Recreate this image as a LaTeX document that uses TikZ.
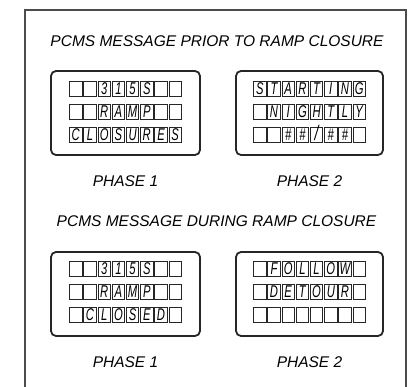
\documentclass[tikz,border=0pt]{standalone}
\usepackage{graphicx}
\usepackage{fontspec}
\setmainfont{Liberation Sans}
\newcommand\bigslash{{\fontsize{21}{21}\selectfont /}}
\newcommand\cellfmt{\fontsize{17}{17}\selectfont\itshape}
\newcommand\pcmsrow[4]{%
  \foreach \t [count=\i] in {#4} {
    \node[cell] (#1-\i) at ({#2+(\i-4.5)*14.2},#3) {\cellfmt\scalebox{0.66}[1]{\t}};
  }}
\begin{document}
\begin{tikzpicture}[x=1pt,y=-1pt,
  frame/.style={draw=black!70, line width=2pt},
  panel/.style={draw=black!85, line width=1.8pt, rounded corners=5pt, inner sep=0pt},
  cell/.style={draw=black!85, line width=0.8pt, minimum width=12.5pt, minimum height=15pt,
    inner sep=0pt, text height=12pt, text depth=0pt},
  title/.style={font=\fontsize{15.5}{15.5}\selectfont\itshape, inner sep=0pt}]
\useasboundingbox (0,0) rectangle (410,387);
\draw[frame] (25,387) -- (25,10) -- (406,10) -- (406,387);

\node[title] (t1) at (217,41) {PCMS MESSAGE PRIOR TO RAMP CLOSURE};
\node[title] (t2) at (216.5,221) {PCMS MESSAGE DURING RAMP CLOSURE};

\node[panel, minimum width=149pt, minimum height=84pt] (ptl) at (125.5,113) {};
\node[panel, minimum width=147pt, minimum height=84pt] (ptr) at (309.5,113) {};
\node[panel, minimum width=149pt, minimum height=84pt] (pbl) at (125.5,294) {};
\node[panel, minimum width=147pt, minimum height=84pt] (pbr) at (309.5,294) {};

\pcmsrow{tla}{125.5}{89}{{},{},3,1,5,S,{},{}}
\pcmsrow{tlb}{125.5}{112}{{},{},R,A,M,P,{},{}}
\pcmsrow{tlc}{125.5}{135}{C,L,O,S,U,R,E,S}

\pcmsrow{tra}{309.5}{89}{S,T,A,R,T,I,N,G}
\pcmsrow{trb}{309.5}{112}{{},N,I,G,H,T,L,Y}
\pcmsrow{trc}{309.5}{135}{{},{},\#,\#,\bigslash,\#,\#,{}}

\pcmsrow{bla}{125.5}{269}{{},{},3,1,5,S,{},{}}
\pcmsrow{blb}{125.5}{292}{{},{},R,A,M,P,{},{}}
\pcmsrow{blc}{125.5}{315}{{},C,L,O,S,E,D,{}}

\pcmsrow{bra}{309.5}{269}{{},F,O,L,L,O,W,{}}
\pcmsrow{brb}{309.5}{292}{{},D,E,T,O,U,R,{}}
\pcmsrow{brc}{309.5}{315}{{},{},{},{},{},{},{},{}}

\node[title] (p1a) at (125.5,181) {PHASE 1};
\node[title] (p2a) at (309.5,181) {PHASE 2};
\node[title] (p1b) at (125.5,362) {PHASE 1};
\node[title] (p2b) at (309.5,362) {PHASE 2};
\end{tikzpicture}
\end{document}
